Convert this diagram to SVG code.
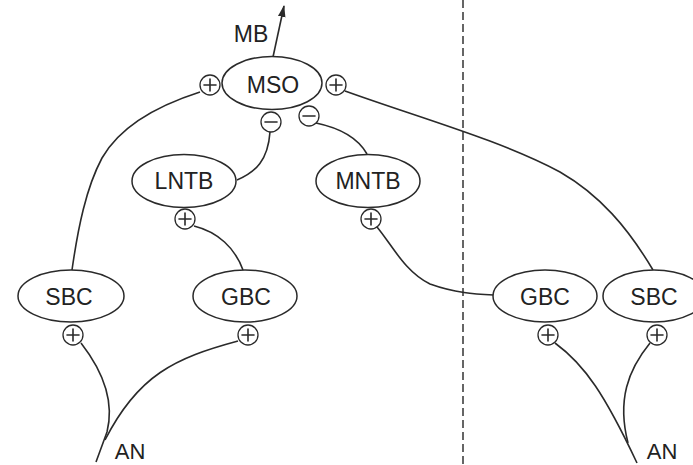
<svg xmlns="http://www.w3.org/2000/svg" width="693" height="465" viewBox="0 0 693 465">
<style>
.n{fill:#fff;stroke:#2a2a2a;stroke-width:1.5}
.p{fill:#fff;stroke:#2a2a2a;stroke-width:1.3}
.s{fill:none;stroke:#2a2a2a;stroke-width:1.6;stroke-linecap:round}
.c{fill:none;stroke:#2a2a2a;stroke-width:1.6}
.t{font-family:"Liberation Sans",Arial,sans-serif;font-size:23px;fill:#222;text-anchor:middle}
.a{font-size:22px}
</style>
<defs>
<marker id="ah" viewBox="0 0 12 10" refX="11" refY="5" markerWidth="12" markerHeight="10" markerUnits="userSpaceOnUse" orient="auto">
<path d="M0,1.2 L12,5 L0,8.8 Z" fill="#2a2a2a"/>
</marker>
<g id="plus"><circle class="p" r="10"/><path class="s" d="M-6,0H6M0,-6V6"/></g>
<g id="minus"><circle class="p" r="10"/><path class="s" d="M-6,0H6"/></g>
</defs>
<line x1="463" y1="0" x2="463" y2="465" stroke="#333" stroke-width="1.5" stroke-dasharray="8,4"/>
<g id="connectors">
<path class="c" d="M273,57 L284,6" marker-end="url(#ah)"/>
<path class="c" d="M200,92 C150,108 118,130 102,158 C86,188 78,228 72,270"/>
<path class="c" d="M237,180 C256,172 268,160 270,132"/>
<path class="c" d="M316,123 C340,128 358,138 367,154"/>
<path class="c" d="M345,91 C420,118 500,140 560,172 C600,195 628,228 653,270"/>
<path class="c" d="M194,226 C218,232 235,248 243,270"/>
<path class="c" d="M377,227 C392,245 405,272 430,284 C455,293 475,294 494,295"/>
<path class="c" d="M81,343 C102,370 115,400 107,432 L96,462"/>
<path class="c" d="M238,341 C175,358 138,375 105,440"/>
<path class="c" d="M555,343 C585,365 605,395 637,463"/>
<path class="c" d="M650,343 C628,370 617,400 628,443"/>
</g>
<g id="MB"><text class="t" x="251" y="42">MB</text></g>
<g id="MSO">
<ellipse class="n" cx="272" cy="83" rx="50" ry="26.5"/>
<text class="t" x="273" y="93">MSO</text>
<use href="#plus" x="210" y="85"/>
<use href="#plus" x="336" y="85"/>
<use href="#minus" x="271" y="122"/>
<use href="#minus" x="309" y="116"/>
</g>
<g id="LNTB">
<ellipse class="n" cx="184" cy="181" rx="52" ry="26.5"/>
<text class="t" x="184" y="189">LNTB</text>
<use href="#plus" x="185" y="219"/>
</g>
<g id="MNTB">
<ellipse class="n" cx="368" cy="181" rx="52" ry="26.5"/>
<text class="t" x="368" y="189">MNTB</text>
<use href="#plus" x="371" y="219"/>
</g>
<g id="SBC-left">
<ellipse class="n" cx="71" cy="296" rx="53" ry="26"/>
<text class="t" x="69" y="305">SBC</text>
<use href="#plus" x="73" y="335"/>
</g>
<g id="GBC-left">
<ellipse class="n" cx="245" cy="296" rx="52" ry="26"/>
<text class="t" x="246" y="305">GBC</text>
<use href="#plus" x="248" y="335"/>
</g>
<g id="GBC-right">
<ellipse class="n" cx="545" cy="296" rx="52" ry="26"/>
<text class="t" x="545" y="305">GBC</text>
<use href="#plus" x="548" y="335"/>
</g>
<g id="SBC-right">
<ellipse class="n" cx="654" cy="296" rx="51" ry="26"/>
<text class="t" x="654" y="305">SBC</text>
<use href="#plus" x="657" y="335"/>
</g>
<g id="AN-left"><text class="t a" x="130" y="459">AN</text></g>
<g id="AN-right"><text class="t a" x="662" y="459">AN</text></g>
</svg>
